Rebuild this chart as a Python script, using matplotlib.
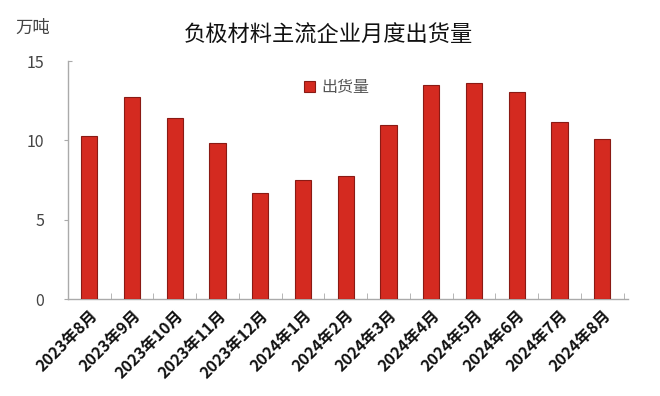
import matplotlib
matplotlib.use("Agg")
import matplotlib.pyplot as plt
import matplotlib.lines as mlines
import numpy as np

plt.rcParams['font.family'] = ['Noto Sans CJK SC', 'DejaVu Sans']

categories = ["2023年8月", "2023年9月", "2023年10月", "2023年11月", "2023年12月",
              "2024年1月", "2024年2月", "2024年3月", "2024年4月", "2024年5月",
              "2024年6月", "2024年7月", "2024年8月"]
values = [10.3, 12.7, 11.4, 9.85, 6.7, 7.5, 7.75, 10.95, 13.5, 13.6, 13.05, 11.15, 10.1]
yticks = [0, 5, 10, 15]

fig = plt.figure(figsize=(6.6, 3.96), dpi=100)
ax = fig.add_axes([68/660, 1-299/396, (628-68)/660, (299-61)/396])

x = np.arange(len(categories))
ax.bar(x, values, width=0.38, color='#d42a20', edgecolor='#8a1a14', linewidth=0.8,
       label='出货量', zorder=3)

ax.set_xlim(-0.5, len(categories) - 0.4)
ax.set_ylim(0, 15)
ax.set_yticks(yticks)
ax.set_yticklabels([str(t) for t in yticks], color='#444444', fontsize=11.5)
ax.set_xticks(x)
ax.set_xticklabels(categories, rotation=45, ha='right', rotation_mode='anchor',
                   fontsize=11.5, fontweight='bold', color='#111111')
ax.tick_params(axis='x', length=0, pad=6)
ax.set_xticks(np.arange(-0.5, len(categories)), minor=True)
ax.tick_params(axis='x', which='minor', direction='in', length=4, color='#aaaaaa')
ax.tick_params(axis='y', direction='out', length=3, color='#aaaaaa', pad=14)
ax.yaxis.get_major_ticks()[-1].tick1line.set_marker(mlines.TICKRIGHT)

for s in ['top', 'right']:
    ax.spines[s].set_visible(False)
for s in ['left', 'bottom']:
    ax.spines[s].set_color('#aaaaaa')
    ax.spines[s].set_linewidth(1)

leg = ax.legend(loc='upper left', bbox_to_anchor=(0.395, 0.985), frameon=False,
                handlelength=0.7, handleheight=0.7, handletextpad=0.4, fontsize=11.5)
for t in leg.get_texts():
    t.set_color('#555555')

fig.text(328/660, 1-35/396, '负极材料主流企业月度出货量', ha='center', va='center',
         fontsize=16, color='#111111')
fig.text(33/660, 1-28/396, '万吨', ha='center', va='center', fontsize=12.5, color='#444444')

fig.savefig('out.png', dpi=100, facecolor='white')
